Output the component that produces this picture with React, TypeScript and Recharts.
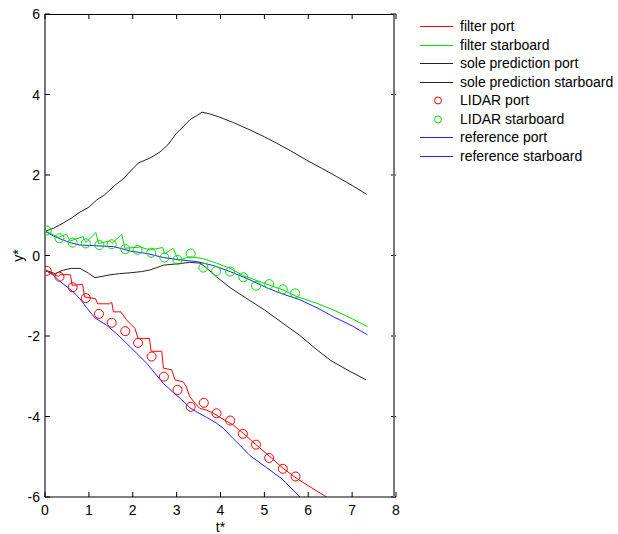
import { ComposedChart, Line, Scatter, XAxis, YAxis, Legend } from 'recharts'

// reference trajectories
const referencePort = [
  { t: 0, y: -0.36 }, { t: 0.2, y: -0.5 }, { t: 0.34, y: -0.64 }, { t: 0.65, y: -0.91 },
  { t: 0.8, y: -1.08 }, { t: 0.95, y: -1.3 }, { t: 1.14, y: -1.55 }, { t: 1.4, y: -1.73 },
  { t: 1.67, y: -1.98 }, { t: 1.94, y: -2.27 }, { t: 2.09, y: -2.43 }, { t: 2.32, y: -2.68 },
  { t: 2.5, y: -2.92 }, { t: 2.7, y: -3.18 }, { t: 2.9, y: -3.38 }, { t: 3.08, y: -3.55 },
  { t: 3.3, y: -3.78 }, { t: 3.53, y: -3.93 }, { t: 3.68, y: -4.02 }, { t: 3.9, y: -4.16 },
  { t: 4.06, y: -4.29 }, { t: 4.29, y: -4.55 }, { t: 4.44, y: -4.71 }, { t: 4.67, y: -4.97 },
  { t: 5.05, y: -5.27 }, { t: 5.4, y: -5.55 }, { t: 5.81, y: -6.0 },
]
const referenceStarboard = [
  { t: 0, y: 0.6 }, { t: 0.2, y: 0.48 }, { t: 0.42, y: 0.38 }, { t: 0.6, y: 0.31 },
  { t: 0.8, y: 0.26 }, { t: 1.0, y: 0.25 }, { t: 1.18, y: 0.24 }, { t: 1.56, y: 0.22 },
  { t: 1.75, y: 0.17 }, { t: 1.94, y: 0.11 }, { t: 2.32, y: 0.05 }, { t: 2.7, y: -0.05 },
  { t: 3.08, y: -0.11 }, { t: 3.46, y: -0.15 }, { t: 3.61, y: -0.19 }, { t: 3.84, y: -0.25 },
  { t: 4.22, y: -0.4 }, { t: 4.6, y: -0.57 }, { t: 5.05, y: -0.8 }, { t: 5.4, y: -0.95 },
  { t: 5.81, y: -1.1 }, { t: 6.2, y: -1.3 }, { t: 6.57, y: -1.52 }, { t: 7.0, y: -1.75 },
  { t: 7.35, y: -1.97 },
]

// dead-reckoning only
const solePort = [
  { t: 0, y: -0.36 }, { t: 0.23, y: -0.45 }, { t: 0.42, y: -0.36 }, { t: 0.6, y: -0.32 },
  { t: 0.8, y: -0.32 }, { t: 0.99, y: -0.44 }, { t: 1.14, y: -0.55 }, { t: 1.3, y: -0.52 },
  { t: 1.48, y: -0.48 }, { t: 1.7, y: -0.45 }, { t: 1.94, y: -0.43 }, { t: 2.2, y: -0.4 },
  { t: 2.39, y: -0.36 }, { t: 2.55, y: -0.3 }, { t: 2.7, y: -0.24 }, { t: 3.08, y: -0.2 },
  { t: 3.3, y: -0.17 }, { t: 3.53, y: -0.19 }, { t: 3.65, y: -0.28 }, { t: 3.91, y: -0.53 },
  { t: 4.22, y: -0.8 }, { t: 4.67, y: -1.12 }, { t: 5.0, y: -1.35 }, { t: 5.43, y: -1.69 },
  { t: 5.8, y: -1.98 }, { t: 6.15, y: -2.3 }, { t: 6.5, y: -2.6 }, { t: 6.9, y: -2.85 },
  { t: 7.32, y: -3.09 },
]
const soleStarboard = [
  { t: 0, y: 0.6 }, { t: 0.2, y: 0.68 }, { t: 0.42, y: 0.81 }, { t: 0.6, y: 0.93 },
  { t: 0.8, y: 1.08 }, { t: 1.0, y: 1.2 }, { t: 1.18, y: 1.38 }, { t: 1.35, y: 1.5 },
  { t: 1.48, y: 1.63 }, { t: 1.6, y: 1.75 }, { t: 1.78, y: 1.9 }, { t: 1.95, y: 2.1 },
  { t: 2.13, y: 2.3 }, { t: 2.39, y: 2.42 }, { t: 2.62, y: 2.57 }, { t: 2.8, y: 2.75 },
  { t: 3.0, y: 3.04 }, { t: 3.15, y: 3.2 }, { t: 3.3, y: 3.37 }, { t: 3.45, y: 3.47 },
  { t: 3.58, y: 3.56 }, { t: 3.75, y: 3.52 }, { t: 3.95, y: 3.45 }, { t: 4.3, y: 3.3 },
  { t: 4.67, y: 3.12 }, { t: 5.0, y: 2.95 }, { t: 5.28, y: 2.79 }, { t: 5.6, y: 2.6 },
  { t: 5.96, y: 2.37 }, { t: 6.3, y: 2.17 }, { t: 6.65, y: 1.96 }, { t: 7.0, y: 1.74 },
  { t: 7.33, y: 1.52 },
]

// filtered estimates (jump at each LIDAR update)
const filterPort = [
  { t: 0, y: -0.37 }, { t: 0.3, y: -0.52 }, { t: 0.36, y: -0.47 }, { t: 0.58, y: -0.48 },
  { t: 0.62, y: -0.74 }, { t: 0.86, y: -0.72 }, { t: 0.9, y: -1.03 }, { t: 1.15, y: -1.07 },
  { t: 1.2, y: -1.2 }, { t: 1.47, y: -1.2 }, { t: 1.52, y: -1.16 }, { t: 1.56, y: -1.4 },
  { t: 1.73, y: -1.4 }, { t: 1.86, y: -1.6 }, { t: 2.05, y: -1.81 }, { t: 2.12, y: -2.06 },
  { t: 2.38, y: -2.06 }, { t: 2.42, y: -2.38 }, { t: 2.66, y: -2.38 }, { t: 2.7, y: -2.8 },
  { t: 2.89, y: -2.84 }, { t: 2.96, y: -3.09 }, { t: 3.15, y: -3.14 }, { t: 3.22, y: -3.26 },
  { t: 3.3, y: -3.51 }, { t: 3.42, y: -3.67 }, { t: 3.53, y: -3.8 }, { t: 3.68, y: -3.84 },
  { t: 3.84, y: -3.92 }, { t: 4.06, y: -4.07 }, { t: 4.29, y: -4.21 }, { t: 4.52, y: -4.42 },
  { t: 4.82, y: -4.71 }, { t: 5.13, y: -5.0 }, { t: 5.43, y: -5.29 }, { t: 5.74, y: -5.54 },
  { t: 6.0, y: -5.72 }, { t: 6.42, y: -6.0 },
]
const filterStarboard = [
  { t: 0, y: 0.62 }, { t: 0.3, y: 0.45 }, { t: 0.49, y: 0.53 }, { t: 0.57, y: 0.36 },
  { t: 0.87, y: 0.47 }, { t: 0.93, y: 0.32 }, { t: 1.16, y: 0.57 }, { t: 1.22, y: 0.3 },
  { t: 1.48, y: 0.36 }, { t: 1.53, y: 0.3 }, { t: 1.75, y: 0.53 }, { t: 1.82, y: 0.18 },
  { t: 2.17, y: 0.21 }, { t: 2.39, y: 0.14 }, { t: 2.6, y: 0.18 }, { t: 2.68, y: 0.2 },
  { t: 2.73, y: 0.04 }, { t: 2.92, y: 0.18 }, { t: 3.04, y: -0.12 }, { t: 3.3, y: -0.03 },
  { t: 3.61, y: -0.08 }, { t: 3.91, y: -0.19 }, { t: 4.22, y: -0.32 }, { t: 4.52, y: -0.5 },
  { t: 4.9, y: -0.65 }, { t: 5.43, y: -0.86 }, { t: 5.74, y: -1.02 }, { t: 6.2, y: -1.19 },
  { t: 6.57, y: -1.35 }, { t: 7.0, y: -1.57 }, { t: 7.35, y: -1.77 },
]

// LIDAR measurements
const lidarPort = [
  { t: 0.04, y: -0.38 }, { t: 0.33, y: -0.53 }, { t: 0.63, y: -0.79 }, { t: 0.93, y: -1.06 },
  { t: 1.23, y: -1.45 }, { t: 1.52, y: -1.67 }, { t: 1.83, y: -1.88 }, { t: 2.12, y: -2.17 },
  { t: 2.43, y: -2.51 }, { t: 2.71, y: -3.01 }, { t: 3.02, y: -3.34 }, { t: 3.32, y: -3.76 },
  { t: 3.62, y: -3.66 }, { t: 3.91, y: -3.92 }, { t: 4.22, y: -4.1 }, { t: 4.51, y: -4.43 },
  { t: 4.81, y: -4.7 }, { t: 5.11, y: -5.03 }, { t: 5.42, y: -5.3 }, { t: 5.71, y: -5.49 },
]
const lidarStarboard = [
  { t: 0.04, y: 0.62 }, { t: 0.33, y: 0.43 }, { t: 0.63, y: 0.32 }, { t: 0.93, y: 0.3 },
  { t: 1.24, y: 0.26 }, { t: 1.52, y: 0.28 }, { t: 1.83, y: 0.16 }, { t: 2.11, y: 0.14 },
  { t: 2.42, y: 0.07 }, { t: 2.72, y: -0.05 }, { t: 3.02, y: -0.11 }, { t: 3.32, y: 0.05 },
  { t: 3.61, y: -0.3 }, { t: 3.9, y: -0.39 }, { t: 4.22, y: -0.4 }, { t: 4.52, y: -0.54 },
  { t: 4.81, y: -0.75 }, { t: 5.11, y: -0.71 }, { t: 5.42, y: -0.84 }, { t: 5.7, y: -0.94 },
]

const xTicks = [0, 1, 2, 3, 4, 5, 6, 7, 8]
const yTicks = [-6, -4, -2, 0, 2, 4, 6]

const RED = '#ff0000'
const GREEN = '#00dd00'
const BLACK = '#222222'
const BLUE = '#2020ff'

const legendItems = [
  { label: 'filter port', color: RED, kind: 'line' },
  { label: 'filter starboard', color: GREEN, kind: 'line' },
  { label: 'sole prediction port', color: BLACK, kind: 'line' },
  { label: 'sole prediction starboard', color: BLACK, kind: 'line' },
  { label: 'LIDAR port', color: RED, kind: 'circle' },
  { label: 'LIDAR starboard', color: GREEN, kind: 'circle' },
  { label: 'reference port', color: BLUE, kind: 'line' },
  { label: 'reference starboard', color: BLUE, kind: 'line' },
]

// plot box in page pixels (matches the chart margins below)
const BOX = { left: 45, top: 14, width: 351, height: 483 }

// bottom ticks: inward mark on the bottom edge and a matching one on the top edge
const BottomTick = ({ x, y, payload }: any) => (
  <g>
    <line x1={x} x2={x} y1={y} y2={y - 5} stroke="#000" />
    <line x1={x} x2={x} y1={y - BOX.height} y2={y - BOX.height + 5} stroke="#000" />
    <text x={x} y={y + 18} textAnchor="middle" fontSize={14} fill="#000">{payload.value}</text>
  </g>
)

// left ticks: inward mark on the left edge and a matching one on the right edge
const LeftTick = ({ x, y, payload }: any) => (
  <g>
    <line x1={x} x2={x + 5} y1={y} y2={y} stroke="#000" />
    <line x1={x + BOX.width} x2={x + BOX.width - 5} y1={y} y2={y} stroke="#000" />
    <text x={x - 5} y={y + 5} textAnchor="end" fontSize={14} fill="#000">{payload.value}</text>
  </g>
)

const circleShape = (color: string) => (props: any) => (
  <circle cx={props.cx} cy={props.cy} r={4.5} fill="none" stroke={color} strokeWidth={1} />
)

const LegendBox = () => (
  <svg width={213} height={160}>
    {legendItems.map((item, i) => {
      const cy = Math.round(12 + i * 18.5)
      return (
        <g key={item.label}>
          {item.kind === 'line' ? (
            <rect x={15} y={cy} width={33} height={1} fill={item.color} />
          ) : (
            <circle cx={33} cy={cy + 0.5} r={3.5} fill="none" stroke={item.color} />
          )}
          <text x={55} y={cy + 5} fontSize={14} fill="#000">{item.label}</text>
        </g>
      )
    })}
  </svg>
)

export default function App() {
  return (
    <div style={{ position: 'absolute', left: 0, top: 0, width: 618, height: 534, fontFamily: '"Liberation Sans", Arial, sans-serif', background: '#fff' }}>
      <ComposedChart width={618} height={534} margin={{ top: 14, right: 222, bottom: 2, left: 5 }}>
        <XAxis
          dataKey="t"
          type="number"
          domain={[0, 8]}
          ticks={xTicks}
          height={35}
          tickSize={0}
          tickMargin={0}
          tickLine={false}
          tick={BottomTick}
          axisLine={{ stroke: '#000' }}
          allowDataOverflow
          label={{ value: 't*', position: 'insideBottom', offset: 0, fontSize: 14, fill: '#000' }}
        />
        <YAxis
          type="number"
          domain={[-6, 6]}
          ticks={yTicks}
          width={40}
          tickSize={0}
          tickMargin={0}
          tickLine={false}
          tick={LeftTick}
          axisLine={{ stroke: '#777', strokeWidth: 2 }}
          allowDataOverflow
          label={{ value: 'y*', angle: -90, position: 'insideLeft', offset: 13, fontSize: 14, fill: '#000', style: { textAnchor: 'middle' } }}
        />
        <Legend
          layout="vertical"
          align="center"
          verticalAlign="middle"
          content={LegendBox}
          wrapperStyle={{ left: 405, top: 14, width: 213, height: 160 }}
        />
        <Line data={referencePort} dataKey="y" stroke={BLUE} dot={false} isAnimationActive={false} strokeWidth={1} />
        <Line data={referenceStarboard} dataKey="y" stroke={BLUE} dot={false} isAnimationActive={false} strokeWidth={1} />
        <Line data={solePort} dataKey="y" stroke={BLACK} dot={false} isAnimationActive={false} strokeWidth={1} />
        <Line data={soleStarboard} dataKey="y" stroke={BLACK} dot={false} isAnimationActive={false} strokeWidth={1} />
        <Line data={filterPort} dataKey="y" stroke={RED} dot={false} isAnimationActive={false} strokeWidth={1} />
        <Line data={filterStarboard} dataKey="y" stroke={GREEN} dot={false} isAnimationActive={false} strokeWidth={1} />
        <Scatter data={lidarPort} dataKey="y" shape={circleShape(RED)} isAnimationActive={false} />
        <Scatter data={lidarStarboard} dataKey="y" shape={circleShape(GREEN)} isAnimationActive={false} />
      </ComposedChart>
      {/* top and right edges of the axes box */}
      <div
        style={{
          position: 'absolute',
          left: BOX.left,
          top: BOX.top,
          width: BOX.width - 1,
          height: BOX.height,
          borderTop: '1px solid #000',
          borderRight: '2px solid #777',
          boxSizing: 'border-box',
          pointerEvents: 'none',
        }}
      />
    </div>
  )
}
